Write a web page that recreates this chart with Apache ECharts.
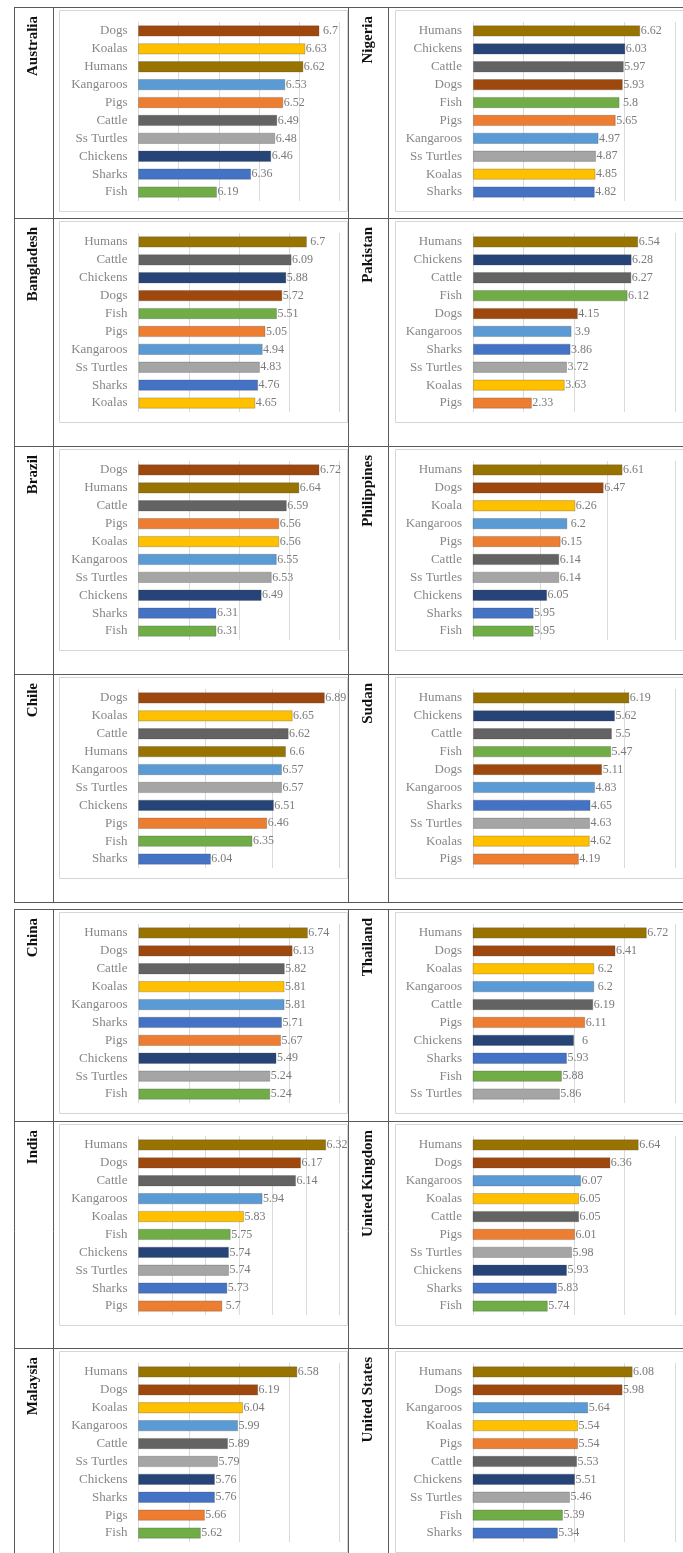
<!DOCTYPE html>
<html>
<head>
<meta charset="utf-8">
<script src="https://cdn.jsdelivr.net/npm/echarts@6/dist/echarts.min.js"></script>
<style>
  html, body { margin: 0; padding: 0; background: #ffffff; }
  #chart { width: 683px; height: 1553px; }
</style>
</head>
<body>
<div id="chart"></div>
<script>
// Attitude scores per country, listed in the order the bars are drawn (top to bottom)
const australiaLabels = ['Dogs', 'Koalas', 'Humans', 'Kangaroos', 'Pigs', 'Cattle', 'Ss Turtles', 'Chickens', 'Sharks', 'Fish'];
const australiaValues = [6.7, 6.63, 6.62, 6.53, 6.52, 6.49, 6.48, 6.46, 6.36, 6.19];

const nigeriaLabels = ['Humans', 'Chickens', 'Cattle', 'Dogs', 'Fish', 'Pigs', 'Kangaroos', 'Ss Turtles', 'Koalas', 'Sharks'];
const nigeriaValues = [6.62, 6.03, 5.97, 5.93, 5.8, 5.65, 4.97, 4.87, 4.85, 4.82];

const bangladeshLabels = ['Humans', 'Cattle', 'Chickens', 'Dogs', 'Fish', 'Pigs', 'Kangaroos', 'Ss Turtles', 'Sharks', 'Koalas'];
const bangladeshValues = [6.7, 6.09, 5.88, 5.72, 5.51, 5.05, 4.94, 4.83, 4.76, 4.65];

const pakistanLabels = ['Humans', 'Chickens', 'Cattle', 'Fish', 'Dogs', 'Kangaroos', 'Sharks', 'Ss Turtles', 'Koalas', 'Pigs'];
const pakistanValues = [6.54, 6.28, 6.27, 6.12, 4.15, 3.9, 3.86, 3.72, 3.63, 2.33];

const brazilLabels = ['Dogs', 'Humans', 'Cattle', 'Pigs', 'Koalas', 'Kangaroos', 'Ss Turtles', 'Chickens', 'Sharks', 'Fish'];
const brazilValues = [6.72, 6.64, 6.59, 6.56, 6.56, 6.55, 6.53, 6.49, 6.31, 6.31];

const philippinesLabels = ['Humans', 'Dogs', 'Koala', 'Kangaroos', 'Pigs', 'Cattle', 'Ss Turtles', 'Chickens', 'Sharks', 'Fish'];
const philippinesValues = [6.61, 6.47, 6.26, 6.2, 6.15, 6.14, 6.14, 6.05, 5.95, 5.95];

const chileLabels = ['Dogs', 'Koalas', 'Cattle', 'Humans', 'Kangaroos', 'Ss Turtles', 'Chickens', 'Pigs', 'Fish', 'Sharks'];
const chileValues = [6.89, 6.65, 6.62, 6.6, 6.57, 6.57, 6.51, 6.46, 6.35, 6.04];

const sudanLabels = ['Humans', 'Chickens', 'Cattle', 'Fish', 'Dogs', 'Kangaroos', 'Sharks', 'Ss Turtles', 'Koalas', 'Pigs'];
const sudanValues = [6.19, 5.62, 5.5, 5.47, 5.11, 4.83, 4.65, 4.63, 4.62, 4.19];

const chinaLabels = ['Humans', 'Dogs', 'Cattle', 'Koalas', 'Kangaroos', 'Sharks', 'Pigs', 'Chickens', 'Ss Turtles', 'Fish'];
const chinaValues = [6.74, 6.13, 5.82, 5.81, 5.81, 5.71, 5.67, 5.49, 5.24, 5.24];

const thailandLabels = ['Humans', 'Dogs', 'Koalas', 'Kangaroos', 'Cattle', 'Pigs', 'Chickens', 'Sharks', 'Fish', 'Ss Turtles'];
const thailandValues = [6.72, 6.41, 6.2, 6.2, 6.19, 6.11, 6, 5.93, 5.88, 5.86];

const indiaLabels = ['Humans', 'Dogs', 'Cattle', 'Kangaroos', 'Koalas', 'Fish', 'Chickens', 'Ss Turtles', 'Sharks', 'Pigs'];
const indiaValues = [6.32, 6.17, 6.14, 5.94, 5.83, 5.75, 5.74, 5.74, 5.73, 5.7];

const ukLabels = ['Humans', 'Dogs', 'Kangaroos', 'Koalas', 'Cattle', 'Pigs', 'Ss Turtles', 'Chickens', 'Sharks', 'Fish'];
const ukValues = [6.64, 6.36, 6.07, 6.05, 6.05, 6.01, 5.98, 5.93, 5.83, 5.74];

const malaysiaLabels = ['Humans', 'Dogs', 'Koalas', 'Kangaroos', 'Cattle', 'Ss Turtles', 'Chickens', 'Sharks', 'Pigs', 'Fish'];
const malaysiaValues = [6.58, 6.19, 6.04, 5.99, 5.89, 5.79, 5.76, 5.76, 5.66, 5.62];

const usLabels = ['Humans', 'Dogs', 'Kangaroos', 'Koalas', 'Pigs', 'Cattle', 'Chickens', 'Ss Turtles', 'Fish', 'Sharks'];
const usValues = [6.08, 5.98, 5.64, 5.54, 5.54, 5.53, 5.51, 5.46, 5.39, 5.34];

// One fixed colour per animal, shared by every panel
const animalColors = {
  'Dogs': '#9E480E',
  'Koalas': '#FFC000',
  'Koala': '#FFC000',
  'Humans': '#997300',
  'Kangaroos': '#5B9BD5',
  'Pigs': '#ED7D31',
  'Cattle': '#636363',
  'Ss Turtles': '#A5A5A5',
  'Chickens': '#264478',
  'Sharks': '#4472C4',
  'Fish': '#70AD47'
};

// Panel list: table row / column and the value-axis range of each small chart
const panels = [
  { name: 'Australia',      labels: australiaLabels,   values: australiaValues,   row: 0, col: 0, min: 5.8, max: 6.8, step: 0.2 },
  { name: 'Nigeria',        labels: nigeriaLabels,     values: nigeriaValues,     row: 0, col: 1, min: 0,   max: 8,   step: 2 },
  { name: 'Bangladesh',     labels: bangladeshLabels,  values: bangladeshValues,  row: 1, col: 0, min: 0,   max: 8,   step: 2 },
  { name: 'Pakistan',       labels: pakistanLabels,    values: pakistanValues,    row: 1, col: 1, min: 0,   max: 8,   step: 2 },
  { name: 'Brazil',         labels: brazilLabels,      values: brazilValues,      row: 2, col: 0, min: 6.0, max: 6.8, step: 0.2 },
  { name: 'Philippines',    labels: philippinesLabels, values: philippinesValues, row: 2, col: 1, min: 5.5, max: 7,   step: 0.5 },
  { name: 'Chile',          labels: chileLabels,       values: chileValues,       row: 3, col: 0, min: 5.5, max: 7,   step: 0.5 },
  { name: 'Sudan',          labels: sudanLabels,       values: sudanValues,       row: 3, col: 1, min: 0,   max: 8,   step: 2 },
  { name: 'China',          labels: chinaLabels,       values: chinaValues,       row: 4, col: 0, min: 0,   max: 8,   step: 2 },
  { name: 'Thailand',       labels: thailandLabels,    values: thailandValues,    row: 4, col: 1, min: 5,   max: 7,   step: 0.5 },
  { name: 'India',          labels: indiaLabels,       values: indiaValues,       row: 5, col: 0, min: 5.2, max: 6.4, step: 0.2 },
  { name: 'United Kingdom', labels: ukLabels,          values: ukValues,          row: 5, col: 1, min: 5,   max: 7,   step: 0.5 },
  { name: 'Malaysia',       labels: malaysiaLabels,    values: malaysiaValues,    row: 6, col: 0, min: 5,   max: 7,   step: 0.5 },
  { name: 'United States',  labels: usLabels,          values: usValues,          row: 6, col: 1, min: 4.5, max: 6.5, step: 0.5 }
];

// Page geometry
const rowTops = [7, 218, 446, 674, 909, 1121, 1348];
const tables = [
  { top: 7,   bottom: 902,  rows: [218, 446, 674] },
  { top: 909, bottom: 1570, rows: [1121, 1348] }
];
const columns = [
  { labelX: 33.5, plotLeft: 138.5, plotWidth: 201, boxLeft: 59,  boxRight: 347 },
  { labelX: 368,  plotLeft: 473,   plotWidth: 202, boxLeft: 395, boxRight: 700 }
];
const tableVerticals = [14, 53, 348, 388];
const lineColor = '#5a5a5a';
const serif = '"Liberation Serif", "Times New Roman", serif';

const grids = [], xAxes = [], yAxes = [], series = [], graphics = [];

panels.forEach((p, i) => {
  const c = columns[p.col];
  const top = rowTops[p.row];

  grids.push({ left: c.plotLeft, top: top + 15, width: c.plotWidth, height: 179, containLabel: false });

  xAxes.push({
    type: 'value', gridIndex: i, min: p.min, max: p.max, interval: p.step,
    axisLabel: { show: false }, axisLine: { show: false }, axisTick: { show: false },
    splitLine: { show: true, lineStyle: { color: '#dadada', width: 1 } }
  });

  yAxes.push({
    type: 'category', gridIndex: i, data: p.labels, inverse: true,
    axisLine: { show: false }, axisTick: { show: false },
    axisLabel: { color: '#878787', fontSize: 13, fontFamily: serif, margin: 11 }
  });

  series.push({
    type: 'bar', xAxisIndex: i, yAxisIndex: i, barWidth: '62%', silent: true,
    data: p.values.map((v, k) => ({ value: v, itemStyle: { color: animalColors[p.labels[k]] } })),
    itemStyle: { borderColor: 'rgba(70,70,70,0.35)', borderWidth: 0.8 },
    label: {
      show: true, position: 'right', distance: 0, align: 'center', offset: [11, 0],
      color: '#7a7a7a', fontSize: 12, fontFamily: serif
    }
  });

  // chart frame around each small chart
  graphics.push({
    type: 'rect', silent: true, z: 1,
    shape: { x: c.boxLeft + 0.5, y: top + 3.5, width: c.boxRight - c.boxLeft, height: 201 },
    style: { fill: 'none', stroke: '#d6d6d6', lineWidth: 1 }
  });

  // rotated country name in the first column of the table
  graphics.push({
    type: 'text', silent: true, z: 5,
    x: c.labelX, y: top + 9, rotation: Math.PI / 2,
    style: { text: p.name, font: 'bold 15px ' + serif, fill: '#111111', align: 'right', verticalAlign: 'middle' }
  });
});

// table rules
tables.forEach(t => {
  [t.top, ...t.rows, t.bottom].forEach(y => {
    graphics.push({
      type: 'line', silent: true, z: 6,
      shape: { x1: 14, y1: y + 0.5, x2: 690, y2: y + 0.5 },
      style: { stroke: lineColor, lineWidth: 1 }
    });
  });
  tableVerticals.forEach(x => {
    graphics.push({
      type: 'line', silent: true, z: 6,
      shape: { x1: x + 0.5, y1: t.top, x2: x + 0.5, y2: t.bottom + 1 },
      style: { stroke: lineColor, lineWidth: 1 }
    });
  });
});

const chart = echarts.init(document.getElementById('chart'), null, { renderer: 'canvas' });
chart.setOption({
  animation: false,
  backgroundColor: '#ffffff',
  grid: grids,
  xAxis: xAxes,
  yAxis: yAxes,
  series: series,
  graphic: { elements: graphics }
});
</script>
</body>
</html>
